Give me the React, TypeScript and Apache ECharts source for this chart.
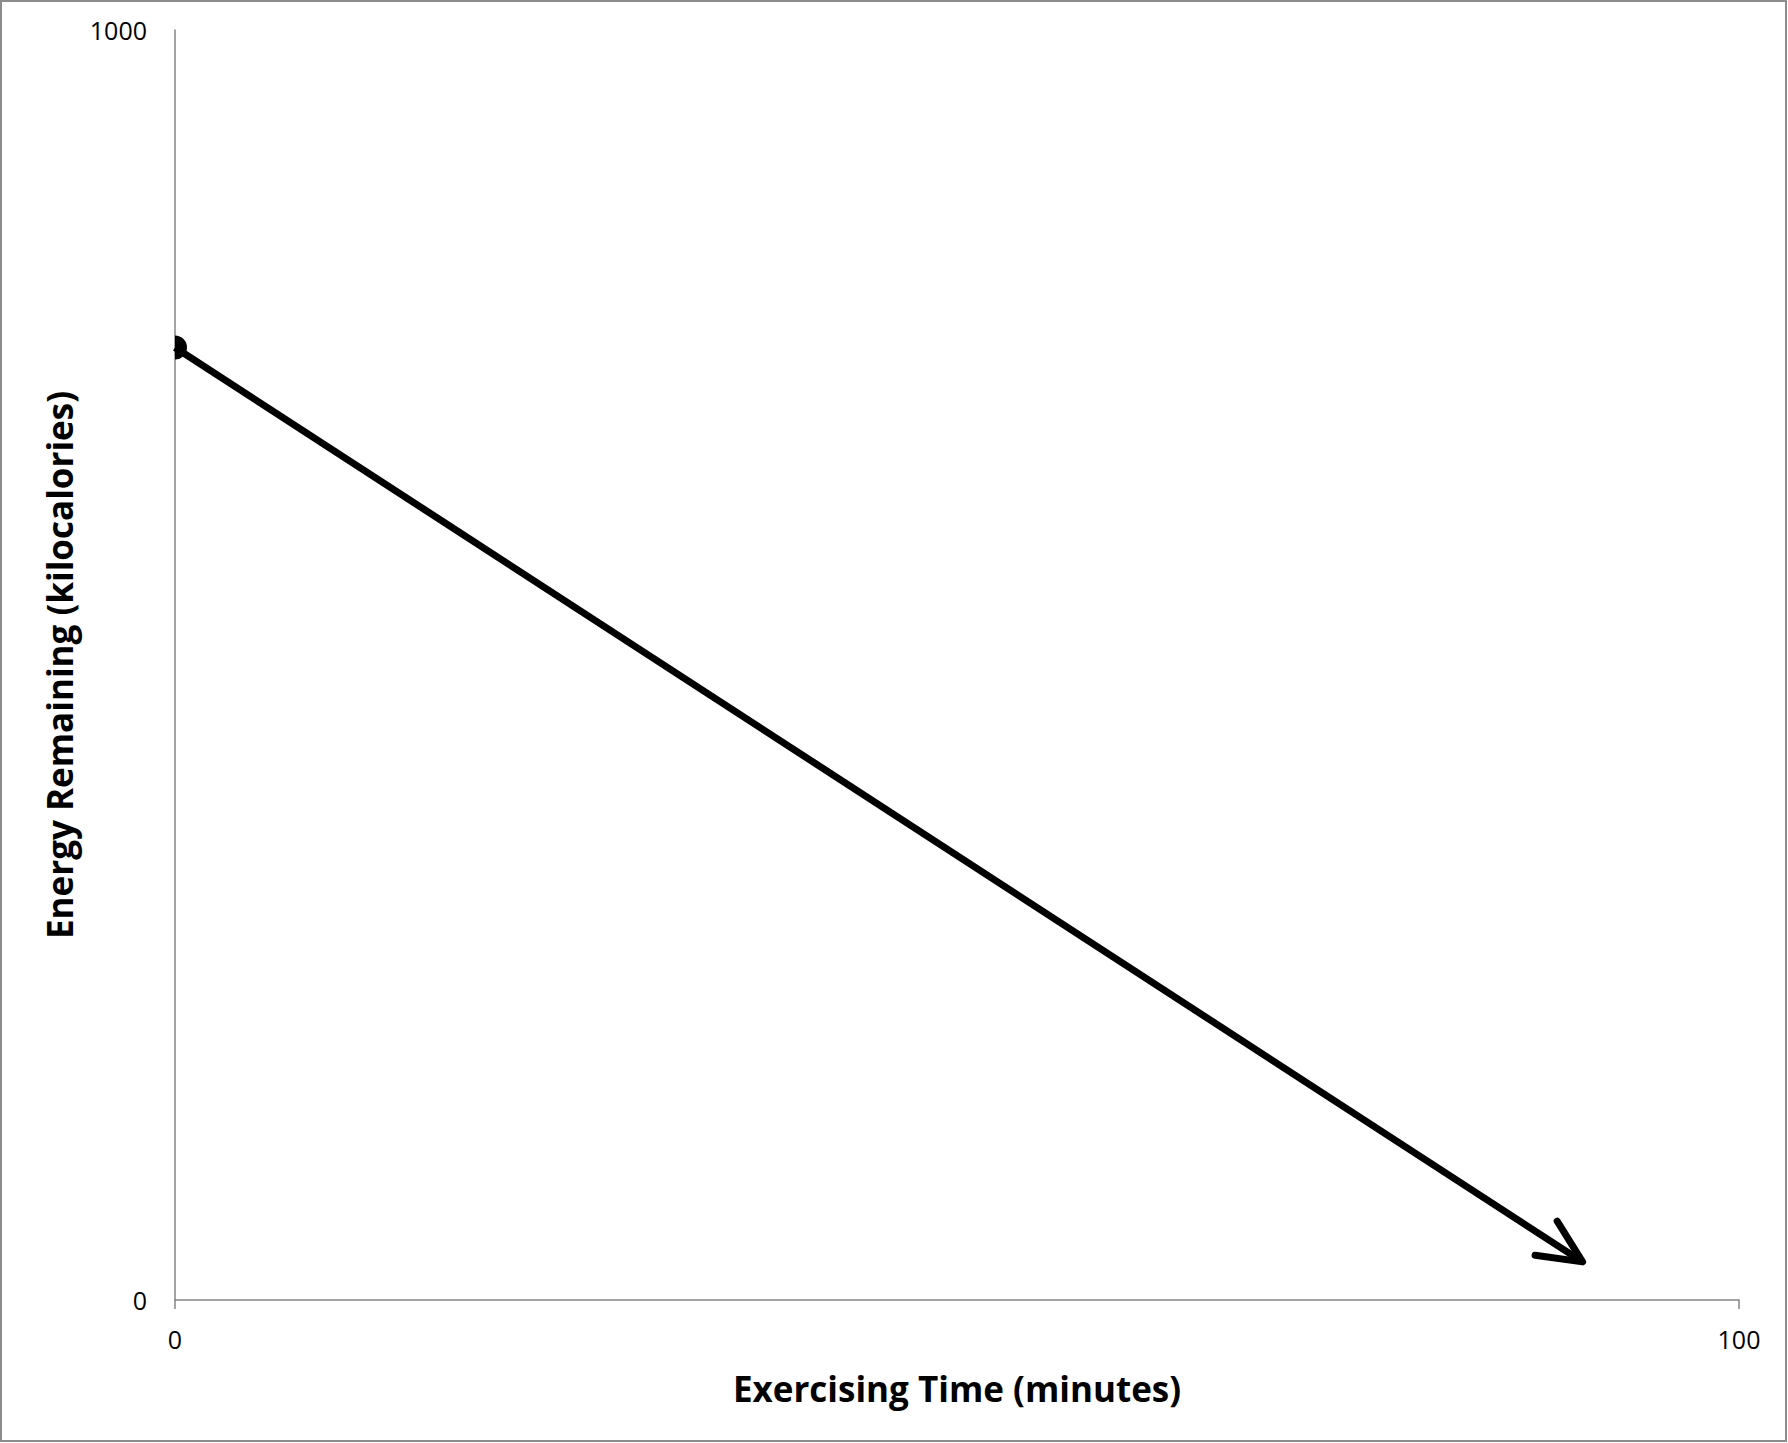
import React, { useEffect, useRef } from "react";
import * as echarts from "echarts";

const timeValues = [0, 90];
const energyValues = [750, 30];
const xTicks = [0, 100];
const yTicks = [0, 1000];
const xTitle = "Exercising Time (minutes)";
const yTitle = "Energy Remaining (kilocalories)";

export default function App() {
  const ref = useRef<HTMLDivElement>(null);
  useEffect(() => {
    if (!ref.current) return;
    const chart = echarts.init(ref.current, null, { renderer: "svg" });
    const pts = timeValues.map((t, i) => [t, energyValues[i]]);
    const axisColor = "#868686";
    const font = "'Open Sans', 'Liberation Sans', sans-serif";
    chart.setOption({
      animation: false,
      backgroundColor: "#ffffff",
      textStyle: { fontFamily: font },
      graphic: [
        {
          type: "rect",
          shape: { x: 1, y: 1, width: 1785, height: 1440 },
          style: { fill: "none", stroke: "#8c8c8c", lineWidth: 2 },
          silent: true,
        },
      ],
      grid: { left: 175, top: 30, right: 49, bottom: 143, containLabel: false },
      xAxis: {
        type: "value",
        min: xTicks[0],
        max: xTicks[1],
        interval: xTicks[1] - xTicks[0],
        name: xTitle,
        nameLocation: "middle",
        nameGap: 71,
        nameTextStyle: { fontFamily: font, fontWeight: "bold", fontSize: 35, color: "#000" },
        axisLine: { show: true, lineStyle: { color: axisColor, width: 1.5 } },
        axisTick: { show: true, inside: false, length: 9, lineStyle: { color: axisColor, width: 1.5 } },
        axisLabel: { fontFamily: font, fontSize: 25, color: "#000", margin: 26, formatter: (v: number) => String(v) },
        splitLine: { show: false },
      },
      yAxis: {
        type: "value",
        min: yTicks[0],
        max: yTicks[1],
        interval: yTicks[1] - yTicks[0],
        name: yTitle,
        nameLocation: "middle",
        nameGap: 98,
        nameTextStyle: { fontFamily: font, fontWeight: "bold", fontSize: 35, color: "#000" },
        axisLine: { show: true, lineStyle: { color: axisColor, width: 1.5 } },
        axisTick: { show: false },
        axisLabel: { fontFamily: font, fontSize: 25, color: "#000", margin: 28, formatter: (v: number) => String(v) },
        splitLine: { show: false },
      },
      series: [
        {
          type: "line",
          data: pts,
          symbol: "none",
          lineStyle: { color: "#000", width: 7, cap: "butt" },
          clip: false,
        },
        {
          type: "custom",
          data: pts,
          clip: false,
          renderItem: (params: any, api: any) => {
            const i = params.dataIndex;
            const p = api.coord([api.value(0), api.value(1)]);
            if (i === 0) {
              return {
                type: "sector",
                shape: {
                  cx: p[0],
                  cy: p[1],
                  r0: 0,
                  r: 12,
                  startAngle: -Math.PI / 2,
                  endAngle: Math.PI / 2,
                  clockwise: true,
                },
                style: { fill: "#000" },
              };
            }
            if (i === pts.length - 1) {
              const q = api.coord(pts[i - 1]);
              const dx = q[0] - p[0];
              const dy = q[1] - p[1];
              const len = Math.sqrt(dx * dx + dy * dy);
              const ux = dx / len;
              const uy = dy / len;
              const L = 48;
              const a = (25 * Math.PI) / 180;
              const rot = (ang: number) => [
                p[0] + L * (ux * Math.cos(ang) - uy * Math.sin(ang)),
                p[1] + L * (ux * Math.sin(ang) + uy * Math.cos(ang)),
              ];
              return {
                type: "polyline",
                shape: { points: [rot(a), [p[0], p[1]], rot(-a)] },
                style: { stroke: "#000", lineWidth: 7, fill: "none", lineCap: "round", lineJoin: "round" },
              };
            }
            return null;
          },
        },
      ],
    });
    return () => chart.dispose();
  }, []);
  return (
    <div
      ref={ref}
      style={{ position: "absolute", left: 0, top: 0, width: 1788, height: 1443 }}
    />
  );
}
